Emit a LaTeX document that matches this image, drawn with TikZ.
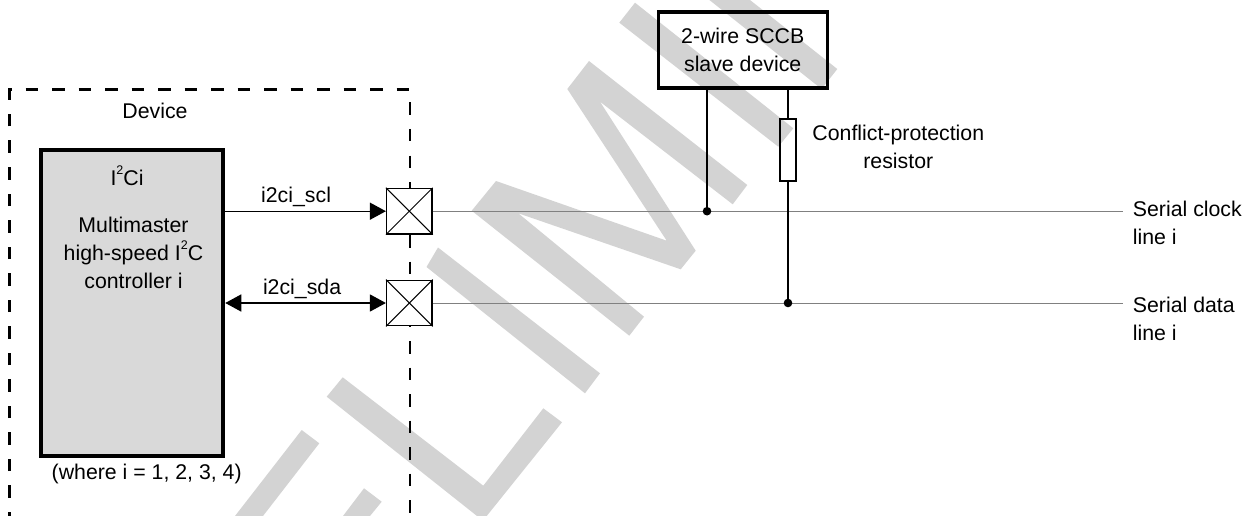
\documentclass[tikz,border=0pt]{standalone}
\usepackage{fontspec}
\usepackage{xcolor}
\setmainfont{Liberation Sans}
\usetikzlibrary{arrows.meta}
\definecolor{markgray}{RGB}{211,211,211}
\definecolor{blockgray}{RGB}{217,217,217}
\definecolor{busgray}{RGB}{128,128,128}
\newcommand{\suptwo}{\smash{\raisebox{11pt}{\fontsize{12.5}{12.5}\selectfont 2}}}

\begin{document}
\begin{tikzpicture}[
    x=1pt, y=-1pt,
    every node/.style={font=\fontsize{21.3}{28}\selectfont, inner sep=0pt, align=center},
    block/.style={draw, line width=4pt, fill=blockgray, minimum width=182pt, minimum height=306pt},
    slavebox/.style={draw, line width=3.8pt, minimum width=169pt, minimum height=76.2pt},
    padbox/.style={draw, line width=1.3pt, fill=white, minimum size=45.5pt},
    resbox/.style={draw, line width=2.2pt, minimum width=15.5pt, minimum height=61.5pt},
    joint/.style={circle, fill=black, minimum size=8.6pt},
    wire/.style={line width=1.4pt},
    sig/.style={wire, -{Triangle[length=16pt,width=17pt]}},
    bisig/.style={wire, {Triangle[length=16pt,width=17pt]}-{Triangle[length=16pt,width=17pt]}},
    bus/.style={line width=1pt, busgray},
    boundary/.style={line width=2.6pt, dash pattern=on 12.5pt off 14pt, dash phase=8pt},
    watermark/.style={fill=markgray}
]
\useasboundingbox (0,0) rectangle (1250,516);

% watermark strokes
\fill[watermark] (635,2.7) -- (793.3,128.3) -- (778.3,146.7) -- (619.3,22.7) -- cycle;
\fill[watermark] (709.4,0) -- (750,0) -- (837.3,69) -- (821.6,89) -- cycle;
\fill[watermark] (589,61) -- (747.3,185) -- (732.7,204.3) -- (600,101.7) -- (695.7,250.7) -- (680.7,269.3)
    -- (518.3,213.3) -- (644,316.7) -- (629.3,335.7) -- (471.7,210.7) -- (496,181) -- (666.7,240.7)
    -- (567.3,89) -- cycle;
\fill[watermark] (438,247.5) -- (600,373.3) -- (585,393.3) -- (426.5,267) -- cycle;
\fill[watermark] (342.7,377.3) -- (483.3,485.7) -- (543.3,408.3) -- (562,422.3) -- (486.7,516) -- (477,516)
    -- (326.7,396.7) -- cycle;
\fill[watermark] (301.7,430) -- (319.3,443.3) -- (263,516) -- (235,516) -- cycle;
\fill[watermark] (364,488.3) -- (381.7,501.7) -- (370,516) -- (343,516) -- cycle;

% device boundary
\draw[boundary] (9.5,516) -- (9.5,89.5) -- (410,89.5) -- (410,516);
\node (device) at (155,111) {Device};

% controller
\node[block] (ctrl) at (132.25,303.25) {};
\node (ctrlname) at (127,178) {I\suptwo Ci};
\node (ctrltext) at (133.5,253) {Multimaster\\high-speed I\suptwo C\\controller i};
\node (where) at (146.7,474) {(where i = 1, 2, 3, 4)};

% pads
\node[padbox] (sclpad) at (409.3,211.2) {};
\node[padbox] (sdapad) at (409.3,303) {};
\foreach \pad in {sclpad,sdapad} {
    \draw[line width=1pt] (\pad.north west) -- (\pad.south east);
    \draw[line width=1pt] (\pad.north east) -- (\pad.south west);
}
\draw[sig] (ctrl.east |- sclpad) -- node[above=4pt, xshift=-9.5pt] (scllabel) {i2ci\_scl} (sclpad.west);
\draw[bisig] (ctrl.east |- sdapad) -- node[above=4pt, xshift=-3.5pt] (sdalabel) {i2ci\_sda} (sdapad.west);

% serial lines
\coordinate (sclend) at (1122.7,211.2);
\coordinate (sdaend) at (1122.7,303);
\draw[bus] (sclpad.east) -- (sclend);
\draw[bus] (sdapad.east) -- (sdaend);
\node[anchor=west, align=left] (scltext) at (1132.7,223) {Serial clock\\line i};
\node[anchor=west, align=left] (sdatext) at (1132.7,319) {Serial data\\line i};

% slave device
\node[slavebox] (slave) at (743,50) {};
\node (slavetext) at (742.7,50) {2-wire SCCB\\slave device};
\node[resbox] (resistor) at (788,150) {};
\node (restext) at (898.3,146.5) {Conflict-protection\\resistor};
\node[joint] (scldot) at (707,211.2) {};
\node[joint] (sdadot) at (788,303) {};
\draw[wire] (scldot |- slave.south) -- (scldot);
\draw[wire] (resistor |- slave.south) -- (resistor.north);
\draw[wire] (resistor.south) -- (sdadot);
\end{tikzpicture}
\end{document}
